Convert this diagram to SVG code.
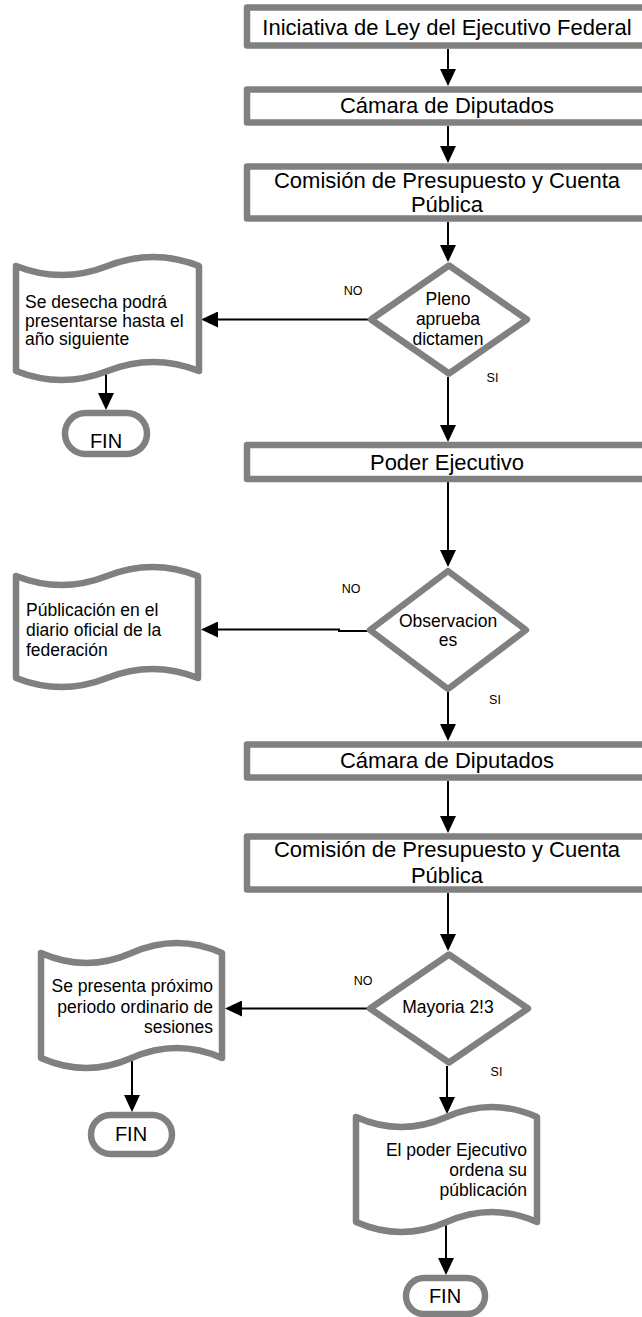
<svg xmlns="http://www.w3.org/2000/svg" width="642" height="1317" viewBox="0 0 642 1317">
  <defs>
    <marker id="arrow" markerUnits="userSpaceOnUse" markerWidth="17" markerHeight="16" refX="2" refY="8" orient="auto">
      <path d="M0,0 L17,8 L0,16 Z" fill="#000"/>
    </marker>
  </defs>
  <style>
    .shape { fill: #fff; stroke: #808080; stroke-width: 6.5; stroke-linejoin: round; }
    .conn { fill: none; stroke: #000; stroke-width: 2; }
    text { font-family: "Liberation Sans", Arial, sans-serif; fill: #000; }
    .box { font-size: 22px; text-anchor: middle; }
    .dec { font-size: 17.5px; text-anchor: middle; }
    .doc { font-size: 17.5px; }
    .docr { font-size: 17.5px; text-anchor: end; }
    .fin { font-size: 20px; text-anchor: middle; }
    .lbl { font-size: 12.5px; text-anchor: middle; }
  </style>
  <rect width="642" height="1317" fill="#fff"/>

  <!-- connectors -->
  <g id="connectors">
    <line class="conn" x1="448" y1="49" x2="448" y2="71" marker-end="url(#arrow)"/>
    <line class="conn" x1="448" y1="126" x2="448" y2="148" marker-end="url(#arrow)"/>
    <line class="conn" x1="448" y1="222" x2="448" y2="247" marker-end="url(#arrow)"/>
    <line class="conn" x1="368" y1="319.5" x2="216" y2="319.5" marker-end="url(#arrow)"/>
    <line class="conn" x1="106" y1="372" x2="106" y2="395" marker-end="url(#arrow)"/>
    <line class="conn" x1="448" y1="377" x2="448" y2="427" marker-end="url(#arrow)"/>
    <line class="conn" x1="448" y1="482" x2="448" y2="552" marker-end="url(#arrow)"/>
    <path class="conn" d="M368,631 H339 V629.5 H216" marker-end="url(#arrow)"/>
    <line class="conn" x1="448" y1="692" x2="448" y2="726" marker-end="url(#arrow)"/>
    <line class="conn" x1="448" y1="781" x2="448" y2="818" marker-end="url(#arrow)"/>
    <line class="conn" x1="448" y1="893" x2="448" y2="936" marker-end="url(#arrow)"/>
    <line class="conn" x1="367" y1="1008.5" x2="240" y2="1008.5" marker-end="url(#arrow)"/>
    <line class="conn" x1="132" y1="1058" x2="132" y2="1097" marker-end="url(#arrow)"/>
    <line class="conn" x1="447" y1="1066" x2="447" y2="1099" marker-end="url(#arrow)"/>
    <line class="conn" x1="446" y1="1222" x2="446" y2="1260" marker-end="url(#arrow)"/>
  </g>

  <!-- branch labels -->
  <g id="labels">
    <text class="lbl" x="353" y="295">NO</text>
    <text class="lbl" x="492.5" y="382">SI</text>
    <text class="lbl" x="351" y="593">NO</text>
    <text class="lbl" x="495" y="704">SI</text>
    <text class="lbl" x="363" y="985">NO</text>
    <text class="lbl" x="496.5" y="1076">SI</text>
  </g>

  <g id="iniciativa">
    <rect class="shape" x="247" y="7.5" width="420" height="38"/>
    <text class="box" x="447" y="35">Iniciativa de Ley del Ejecutivo Federal</text>
  </g>

  <g id="camara1">
    <rect class="shape" x="247" y="89.5" width="420" height="33"/>
    <text class="box" x="447" y="113">Cámara de Diputados</text>
  </g>

  <g id="comision1">
    <rect class="shape" x="247" y="166.5" width="420" height="52"/>
    <text class="box" x="447" y="188">Comisión de Presupuesto y Cuenta</text>
    <text class="box" x="447" y="212">Pública</text>
  </g>

  <g id="pleno">
    <polygon class="shape" points="449,265.5 527,319.5 449,373.5 371,319.5"/>
    <text class="dec" x="448" y="305">Pleno</text>
    <text class="dec" x="448" y="325">aprueba</text>
    <text class="dec" x="448" y="345">dictamen</text>
  </g>

  <g id="desecha">
    <path class="shape" d="M16,266 Q61.75,284 107.5,266 Q153.25,248 199,266 L199,371 Q153.25,353 107.5,371 Q61.75,389 16,371 Z"/>
    <text class="doc" x="25" y="308">Se desecha podrá</text>
    <text class="doc" x="25" y="327">presentarse hasta el</text>
    <text class="doc" x="25" y="345">año siguiente</text>
  </g>

  <g id="fin1">
    <rect class="shape" x="65" y="413" width="82" height="41" rx="20.5"/>
    <text class="fin" x="106" y="448">FIN</text>
  </g>

  <g id="poder">
    <rect class="shape" x="247" y="445" width="420" height="34"/>
    <text class="box" x="447" y="470">Poder Ejecutivo</text>
  </g>

  <g id="observaciones">
    <polygon class="shape" points="448,571 526,630 448,689 370,630"/>
    <text class="dec" x="448" y="627">Observacion</text>
    <text class="dec" x="448" y="646">es</text>
  </g>

  <g id="publicacion">
    <path class="shape" d="M16,576 Q61.5,594 107,576 Q152.5,558 198,576 L198,678 Q152.5,660 107,678 Q61.5,696 16,678 Z"/>
    <text class="doc" x="26" y="616">Públicación en el</text>
    <text class="doc" x="26" y="636">diario oficial de la</text>
    <text class="doc" x="26" y="656">federación</text>
  </g>

  <g id="camara2">
    <rect class="shape" x="247" y="744.5" width="420" height="33"/>
    <text class="box" x="447" y="768">Cámara de Diputados</text>
  </g>

  <g id="comision2">
    <rect class="shape" x="247" y="836.5" width="420" height="53"/>
    <text class="box" x="447" y="857">Comisión de Presupuesto y Cuenta</text>
    <text class="box" x="447" y="883">Pública</text>
  </g>

  <g id="mayoria">
    <polygon class="shape" points="449,954.5 528,1008.5 449,1062.5 370,1008.5"/>
    <text class="dec" x="448" y="1013">Mayoria 2!3</text>
  </g>

  <g id="proximo">
    <path class="shape" d="M41,953 Q86.25,973 131.5,953 Q176.75,933 222,953 L222,1058 Q176.75,1038 131.5,1058 Q86.25,1078 41,1058 Z"/>
    <text class="docr" x="213" y="992">Se presenta próximo</text>
    <text class="docr" x="213" y="1013">periodo ordinario de</text>
    <text class="docr" x="213" y="1033">sesiones</text>
  </g>

  <g id="fin2">
    <rect class="shape" x="91" y="1115" width="81" height="39" rx="19.5"/>
    <text class="fin" x="131" y="1141">FIN</text>
  </g>

  <g id="ordena">
    <path class="shape" d="M356,1117 Q401.25,1137 446.5,1117 Q491.75,1097 537,1117 L537,1222 Q491.75,1202 446.5,1222 Q401.25,1242 356,1222 Z"/>
    <text class="docr" x="527" y="1156">El poder Ejecutivo</text>
    <text class="docr" x="527" y="1176">ordena su</text>
    <text class="docr" x="527" y="1196">públicación</text>
  </g>

  <g id="fin3">
    <rect class="shape" x="406" y="1278" width="79" height="36" rx="18"/>
    <text class="fin" x="445" y="1303">FIN</text>
  </g>
</svg>
